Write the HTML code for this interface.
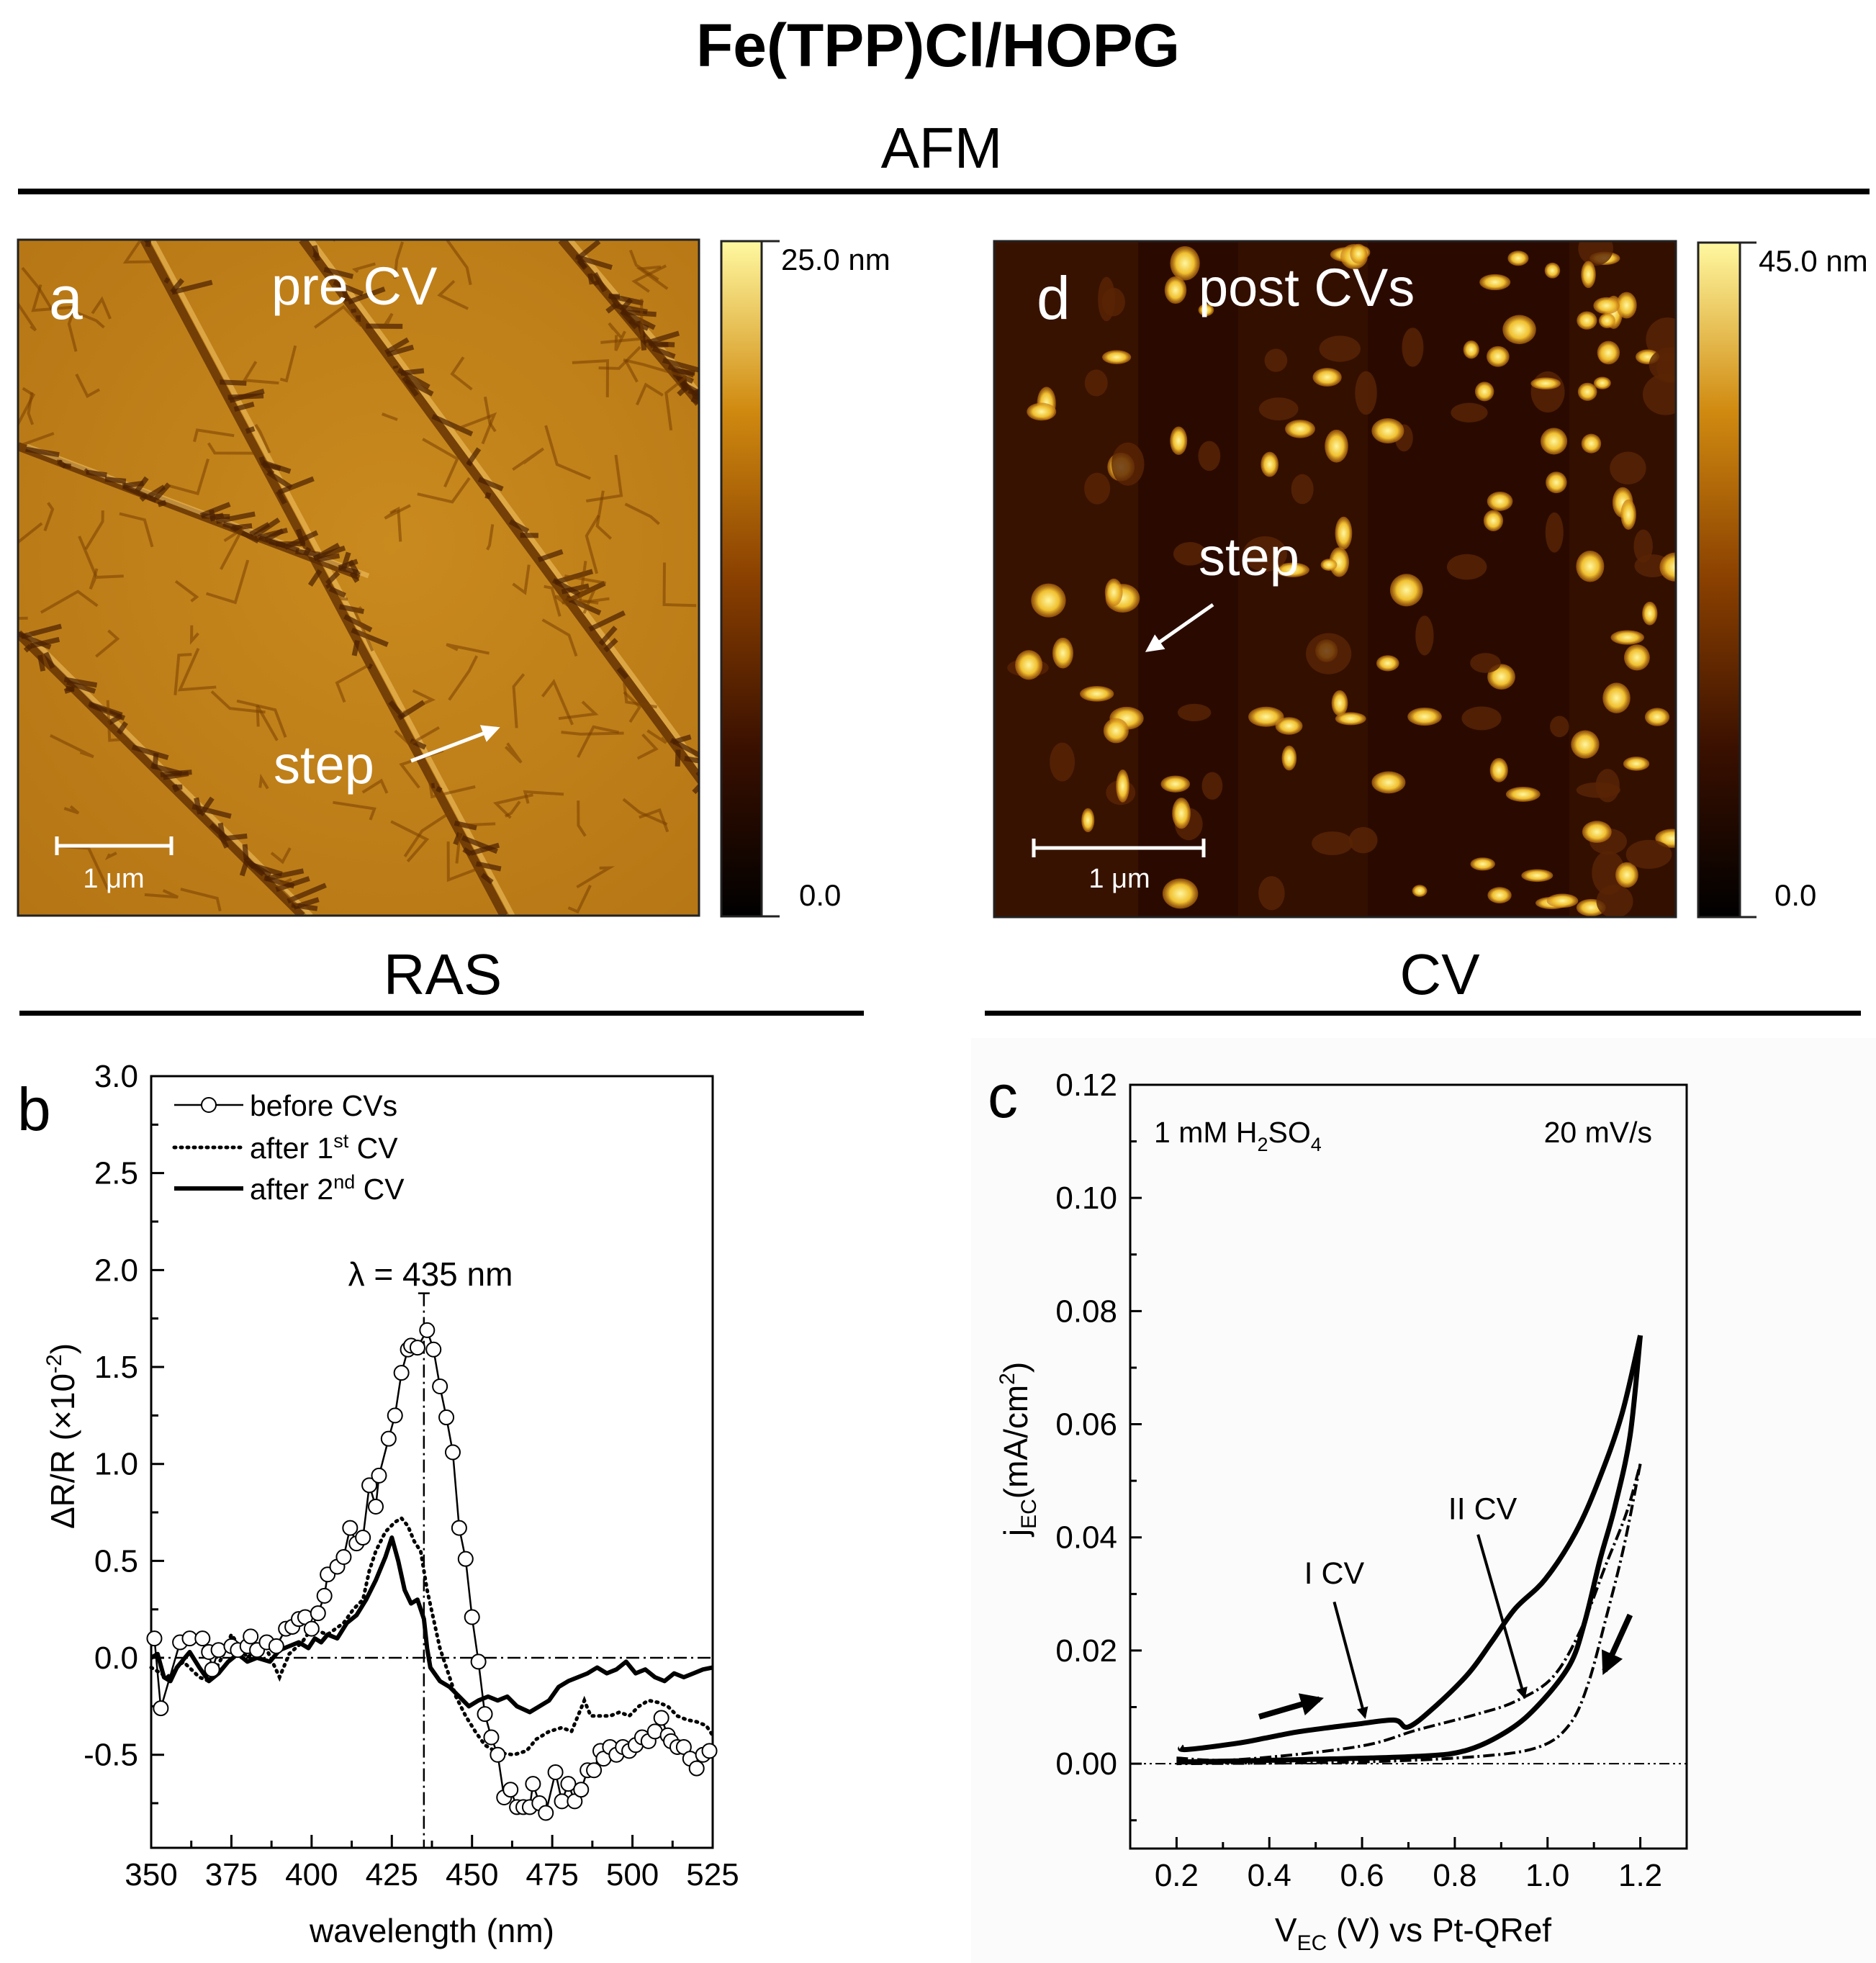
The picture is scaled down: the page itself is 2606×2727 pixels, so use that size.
<!DOCTYPE html>
<html><head><meta charset="utf-8"><style>
html,body{margin:0;padding:0;background:#fff;}
svg{display:block;font-family:"Liberation Sans",Arial,sans-serif;}
</style></head><body>
<svg id="fig" xmlns="http://www.w3.org/2000/svg" width="2606" height="2727" viewBox="0 0 2606 2727">
<defs>
<linearGradient id="cbar" x1="0" y1="1" x2="0" y2="0">
<stop offset="0" stop-color="#000"/><stop offset="0.25" stop-color="#3a1000"/><stop offset="0.5" stop-color="#8a4000"/><stop offset="0.75" stop-color="#d08a10"/><stop offset="1" stop-color="#fff8a0"/>
</linearGradient>
<radialGradient id="agrad" cx="0.55" cy="0.45" r="0.8">
<stop offset="0" stop-color="#c98a1e"/><stop offset="1" stop-color="#b47414"/>
</radialGradient>
<radialGradient id="blob" cx="0.5" cy="0.5" r="0.5">
<stop offset="0" stop-color="#fff6a0"/><stop offset="0.6" stop-color="#f0c030"/><stop offset="1" stop-color="#c07010" stop-opacity="0.6"/>
</radialGradient>
<marker id="arrW" viewBox="0 0 10 10" refX="8" refY="5" markerWidth="5" markerHeight="5" orient="auto"><path d="M0,0 L10,5 L0,10 z" fill="#fff"/></marker>
<marker id="arrB" viewBox="0 0 10 10" refX="8" refY="5" markerWidth="4" markerHeight="4" orient="auto"><path d="M0,0 L10,5 L0,10 z" fill="#000"/></marker>
<clipPath id="clipA"><rect x="25" y="333" width="946" height="939"/></clipPath>
<clipPath id="clipD"><rect x="1381" y="335" width="947" height="939"/></clipPath>
</defs>

<text x="1303" y="92" font-size="84" font-weight="bold" text-anchor="middle">Fe(TPP)Cl/HOPG</text>
<text x="1308" y="233" font-size="80" text-anchor="middle">AFM</text>
<rect x="25" y="262" width="2572" height="8" fill="#000"/>

<!-- AFM a -->
<g>
<rect x="25" y="333" width="946" height="939" fill="url(#agrad)" stroke="#222" stroke-width="3"/>
<g id="afmA" clip-path="url(#clipA)"></g>
<rect x="25" y="333" width="946" height="939" fill="none" stroke="#222" stroke-width="3"/>
</g>
<text x="68" y="443" font-size="84" fill="#fff">a</text>
<text x="377" y="423" font-size="74" fill="#fff">pre CV</text>
<text x="380" y="1088" font-size="74" fill="#fff">step</text>
<line x1="571" y1="1057" x2="690" y2="1012" stroke="#fff" stroke-width="5" marker-end="url(#arrW)"/>
<g stroke="#fff" stroke-width="5">
<line x1="79" y1="1175" x2="238" y2="1175"/><line x1="79" y1="1162" x2="79" y2="1188"/><line x1="238" y1="1162" x2="238" y2="1188"/></g>
<text x="158" y="1233" font-size="38" fill="#fff" text-anchor="middle">1 μm</text>
<rect x="1002" y="335" width="56" height="938" fill="url(#cbar)" stroke="#222" stroke-width="3"/>
<path d="M1058 335 H1083 M1058 1273 H1083" stroke="#222" stroke-width="3"/>
<text x="1085" y="375" font-size="42">25.0 nm</text>
<text x="1110" y="1258" font-size="42">0.0</text>

<!-- AFM d -->
<g>
<rect x="1381" y="335" width="947" height="939" fill="#2a0a00"/>
<g id="afmD" clip-path="url(#clipD)"></g>
<rect x="1381" y="335" width="947" height="939" fill="none" stroke="#222" stroke-width="3"/>
</g>
<text x="1440" y="443" font-size="84" fill="#fff">d</text>
<text x="1665" y="425" font-size="74" fill="#fff">post CVs</text>
<text x="1665" y="799" font-size="74" fill="#fff">step</text>
<line x1="1685" y1="840" x2="1595" y2="903" stroke="#fff" stroke-width="5" marker-end="url(#arrW)"/>
<g stroke="#fff" stroke-width="5">
<line x1="1436" y1="1178" x2="1672" y2="1178"/><line x1="1436" y1="1165" x2="1436" y2="1191"/><line x1="1672" y1="1165" x2="1672" y2="1191"/></g>
<text x="1555" y="1233" font-size="38" fill="#fff" text-anchor="middle">1 μm</text>
<rect x="2359" y="337" width="58" height="937" fill="url(#cbar)" stroke="#222" stroke-width="3"/>
<path d="M2417 337 H2440 M2417 1274 H2440" stroke="#222" stroke-width="3"/>
<text x="2443" y="377" font-size="42">45.0 nm</text>
<text x="2465" y="1258" font-size="42">0.0</text>

<!-- section headers -->
<text x="615" y="1381" font-size="80" text-anchor="middle">RAS</text>
<rect x="27" y="1404" width="1173" height="7" fill="#000"/>
<text x="2000" y="1381" font-size="80" text-anchor="middle">CV</text>
<rect x="1368" y="1404" width="1217" height="7" fill="#000"/>
<rect x="1349" y="1442" width="1257" height="1285" fill="#fbfbfb"/>

<g id="rasChart"></g>
<g id="cvChart"></g>
</svg>

<script>
// ---------------- RAS data ----------------
const rasXTicks = [350,375,400,425,450,475,500,525];
const rasYTicks = [-0.5,0.0,0.5,1.0,1.5,2.0,2.5,3.0];
const beforeWl = [351,353,359,362,366,368,369,371,375,377,380,381,383,386,389,392,394,396,398,400,402,404,405,408,410,412,414,416,418,420,421,424,426,428,430,431,433,436,438,440,442,444,446,448,450,452,454,456,458,460,462,464,466,468,469,471,473,476,478,480,482,484,486,488,490,491,493,495,497,499,501,503,505,507,509,511,512,514,516,518,520,522,524];
const beforeVal = [0.1,-0.26,0.08,0.1,0.1,0.03,-0.06,0.04,0.06,0.04,0.06,0.11,0.04,0.08,0.06,0.15,0.16,0.2,0.21,0.15,0.23,0.32,0.43,0.47,0.52,0.67,0.59,0.62,0.89,0.78,0.94,1.13,1.25,1.47,1.59,1.61,1.6,1.69,1.59,1.4,1.24,1.06,0.67,0.51,0.21,-0.02,-0.29,-0.41,-0.5,-0.72,-0.68,-0.77,-0.77,-0.77,-0.65,-0.75,-0.8,-0.59,-0.74,-0.65,-0.74,-0.68,-0.58,-0.58,-0.48,-0.52,-0.46,-0.5,-0.46,-0.48,-0.45,-0.41,-0.43,-0.38,-0.31,-0.4,-0.43,-0.46,-0.46,-0.52,-0.57,-0.5,-0.48];
const after1Wl = [350,355,360,365,368,372,375,380,385,390,393,397,400,405,410,413,416,418,420,423,426,428,430,432,434,436,438,440,442,445,448,451,454,458,463,467,470,474,478,481,483,485,487,490,493,496,499,502,505,508,511,514,517,520,523,525];
const after1Val = [-0.05,-0.1,-0.02,-0.1,-0.12,0.0,0.12,0.0,0.08,-0.1,0.02,0.08,0.15,0.12,0.18,0.25,0.3,0.45,0.55,0.65,0.7,0.72,0.68,0.6,0.55,0.35,0.2,0.05,-0.05,-0.2,-0.3,-0.38,-0.45,-0.49,-0.5,-0.48,-0.42,-0.38,-0.36,-0.38,-0.3,-0.22,-0.3,-0.3,-0.3,-0.28,-0.3,-0.25,-0.22,-0.23,-0.25,-0.3,-0.32,-0.33,-0.35,-0.4];
const after2Wl = [350,352,354,356,358,362,365,368,371,374,377,380,383,387,390,393,396,399,401,403,405,408,411,414,417,420,423,425,427,429,431,433,435,436,437,440,443,446,449,452,455,458,461,464,468,471,474,477,480,483,486,489,492,495,498,501,504,507,510,513,516,519,522,525];
const after2Val = [0.0,0.02,-0.1,-0.12,-0.05,0.03,-0.05,-0.12,-0.08,-0.02,0.02,-0.02,0.0,-0.02,0.04,0.06,0.08,0.05,0.1,0.08,0.12,0.1,0.18,0.22,0.3,0.4,0.52,0.62,0.5,0.35,0.28,0.3,0.2,0.05,-0.05,-0.12,-0.15,-0.2,-0.25,-0.22,-0.2,-0.22,-0.2,-0.25,-0.28,-0.25,-0.22,-0.15,-0.12,-0.1,-0.08,-0.05,-0.08,-0.06,-0.02,-0.08,-0.06,-0.1,-0.12,-0.08,-0.1,-0.08,-0.06,-0.05];
const peakWl = 435;

// ---------------- CV data ----------------
const cvXTicks = [0.2,0.4,0.6,0.8,1.0,1.2];
const cvYTicks = [0.00,0.02,0.04,0.06,0.08,0.10,0.12];
const cv1FwdV = [0.21,0.22,0.33,0.39,0.46,0.54,0.59,0.67,0.70,0.76,0.83,0.88,0.93,0.995,1.06,1.11,1.16,1.2];
const cv1FwdJ = [0.003,0.0025,0.0036,0.0045,0.0056,0.0065,0.007,0.0077,0.0065,0.0103,0.016,0.0216,0.0274,0.0326,0.0408,0.05,0.0617,0.0757];
const cv1RevV = [1.2,1.178,1.145,1.113,1.08,1.048,0.983,0.918,0.827,0.72,0.46,0.2];
const cv1RevJ = [0.0757,0.058,0.0454,0.036,0.025,0.0175,0.0106,0.006,0.0024,0.0013,0.0007,0.0003];
const cv2FwdV = [0.2,0.33,0.59,0.72,0.85,0.93,1.01,1.07,1.125,1.17,1.2];
const cv2FwdJ = [0.001,0.0007,0.003,0.006,0.0088,0.011,0.0152,0.0234,0.035,0.0443,0.053];
const cv2RevV = [1.2,1.165,1.126,1.087,1.048,0.983,0.853,0.59,0.2];
const cv2RevJ = [0.053,0.0385,0.0257,0.014,0.007,0.003,0.0013,0.0003,0.0];

const NS = "http://www.w3.org/2000/svg";
function mk(parent, tag, attrs, text){
  const e = document.createElementNS(NS, tag);
  for (const k in attrs) e.setAttribute(k, attrs[k]);
  if (text !== undefined) e.textContent = text;
  parent.appendChild(e);
  return e;
}
function pathD(xs, ys, fx, fy){
  return xs.map((v,i)=>(i?'L':'M')+fx(v).toFixed(1)+' '+fy(ys[i]).toFixed(1)).join(' ');
}
// smooth path (Catmull-Rom)
function smoothD(xs, ys, fx, fy){
  const p = xs.map((v,i)=>[fx(v),fy(ys[i])]);
  let d = `M${p[0][0].toFixed(1)} ${p[0][1].toFixed(1)}`;
  for(let i=0;i<p.length-1;i++){
    const p0=p[Math.max(0,i-1)], p1=p[i], p2=p[i+1], p3=p[Math.min(p.length-1,i+2)];
    const c1=[p1[0]+(p2[0]-p0[0])/6, p1[1]+(p2[1]-p0[1])/6];
    const c2=[p2[0]-(p3[0]-p1[0])/6, p2[1]-(p3[1]-p1[1])/6];
    d += ` C${c1[0].toFixed(1)} ${c1[1].toFixed(1)} ${c2[0].toFixed(1)} ${c2[1].toFixed(1)} ${p2[0].toFixed(1)} ${p2[1].toFixed(1)}`;
  }
  return d;
}

// ===== RAS chart =====
(function(){
  const g = document.getElementById('rasChart');
  const L=210, R=990, T=1495, B=2567;
  const x0=350, x1=525, y0=-0.98, y1=3.0;
  const fx = v => L + (v-x0)/(x1-x0)*(R-L);
  const fy = v => B - (v-y0)/(y1-y0)*(B-T);
  const frame = mk(g,'rect',{x:L,y:T,width:R-L,height:B-T,fill:'none',stroke:'#000','stroke-width':3});
  
  
  let tk = '';
  for (let v=350; v<=525; v+=12.5){ const big = (v%25===0); tk += `M${fx(v)} ${B} V${B-(big?18:10)} `; }
  for (let v=-0.75; v<=3.0; v+=0.25){ const big = Math.abs(v*2-Math.round(v*2))<1e-6; tk += `M${L} ${fy(v)} H${L+(big?18:10)} `; }
  mk(g,'path',{d:tk,stroke:'#000','stroke-width':3,fill:'none'});
  rasXTicks.forEach(v=>{
    const t = mk(g,'text',{x:fx(v),y:B+52,'font-size':44,'text-anchor':'middle'}, String(v));
    
    
  });
  rasYTicks.forEach(v=>{
    const t = mk(g,'text',{x:L-18,y:fy(v)+15,'font-size':44,'text-anchor':'end'}, v.toFixed(1));
    
    
  });
  const xt = mk(g,'text',{x:600,y:2698,'font-size':46,'text-anchor':'middle'},'wavelength (nm)');
  
  
  const yt = mk(g,'text',{x:0,y:0,'font-size':46,'text-anchor':'middle',transform:'translate(103 1995) rotate(-90)'});
  
  
  yt.innerHTML = 'ΔR/R (×10<tspan dy="-18" font-size="30">-2</tspan><tspan dy="18">)</tspan>';
  const pl = mk(g,'text',{x:24,y:1570,'font-size':84},'b');
  
  
  mk(g,'line',{x1:L,y1:fy(0),x2:R,y2:fy(0),stroke:'#000','stroke-width':2.5,'stroke-dasharray':'18 6 3 6'});
  mk(g,'path',{d:`M${fx(peakWl)} ${fy(1.88)} V${B} M${fx(peakWl)-8} ${fy(1.88)} H${fx(peakWl)+8}`,stroke:'#000','stroke-width':2.5,'stroke-dasharray':'18 6 3 6',fill:'none'});
  const lt = mk(g,'text',{x:598,y:1786,'font-size':46,'text-anchor':'middle'},'λ = 435 nm');
  
  
  const s2 = mk(g,'path',{d:pathD(after2Wl,after2Val,fx,fy),stroke:'#000','stroke-width':6,fill:'none','stroke-linejoin':'round'});
  
  
  const s1 = mk(g,'path',{d:pathD(after1Wl,after1Val,fx,fy),stroke:'#000','stroke-width':5,fill:'none','stroke-dasharray':'2 7','stroke-linecap':'round'});
  
  
  const s0 = mk(g,'path',{d:pathD(beforeWl,beforeVal,fx,fy),stroke:'#000','stroke-width':2.5,fill:'none'});
  
  
  beforeWl.forEach((w,i)=>{
    const c = mk(g,'circle',{cx:fx(w),cy:fy(beforeVal[i]),r:10,fill:'#fff',stroke:'#000','stroke-width':2});
    
    
  });
  const lg = mk(g,'g',{});
  
  
  mk(lg,'line',{x1:242,y1:1535,x2:338,y2:1535,stroke:'#000','stroke-width':2.5});
  mk(lg,'circle',{cx:290,cy:1535,r:10,fill:'#fff',stroke:'#000','stroke-width':2});
  mk(lg,'text',{x:347,y:1550,'font-size':41},'before CVs');
  mk(lg,'line',{x1:242,y1:1594,x2:338,y2:1594,stroke:'#000','stroke-width':5,'stroke-dasharray':'2 7','stroke-linecap':'round'});
  const t1 = mk(lg,'text',{x:347,y:1609,'font-size':41});
  t1.innerHTML = 'after 1<tspan dy="-15" font-size="27">st</tspan><tspan dy="15"> CV</tspan>';
  mk(lg,'line',{x1:242,y1:1651,x2:338,y2:1651,stroke:'#000','stroke-width':6});
  const t2 = mk(lg,'text',{x:347,y:1666,'font-size':41});
  t2.innerHTML = 'after 2<tspan dy="-15" font-size="27">nd</tspan><tspan dy="15"> CV</tspan>';
})();

// ===== CV chart =====
(function(){
  const g = document.getElementById('cvChart');
  const L=1570, R=2343, T=1507, B=2568;
  const x0=0.1, x1=1.3, y0=-0.015, y1=0.12;
  const fx = v => L + (v-x0)/(x1-x0)*(R-L);
  const fy = v => B - (v-y0)/(y1-y0)*(B-T);
  const frame = mk(g,'rect',{x:L,y:T,width:R-L,height:B-T,fill:'none',stroke:'#000','stroke-width':3});
  
  
  let tk='';
  for (let i=2;i<=12;i++){ const v=i/10; const big=(i%2===0); tk += `M${fx(v)} ${B} V${B-(big?16:9)} `; }
  for (let i=-1;i<=12;i++){ const v=i/100; const big=(i%2===0); tk += `M${L} ${fy(v)} H${L+(big?16:9)} `; }
  mk(g,'path',{d:tk,stroke:'#000','stroke-width':3,fill:'none'});
  cvXTicks.forEach(v=>{
    const t = mk(g,'text',{x:fx(v),y:B+52,'font-size':44,'text-anchor':'middle'}, v.toFixed(1));
    
    
  });
  cvYTicks.forEach(v=>{
    const t = mk(g,'text',{x:L-18,y:fy(v)+15,'font-size':44,'text-anchor':'end'}, v.toFixed(2));
    
    
  });
  const xt = mk(g,'text',{x:1963,y:2697,'font-size':46,'text-anchor':'middle'});
  
  
  xt.innerHTML = 'V<tspan dy="12" font-size="30">EC</tspan><tspan dy="-12"> (V) vs Pt-QRef</tspan>';
  const yt = mk(g,'text',{x:0,y:0,'font-size':46,'text-anchor':'middle',transform:'translate(1427 2013) rotate(-90)'});
  
  
  yt.innerHTML = 'j<tspan dy="12" font-size="30">EC</tspan><tspan dy="-12">(mA/cm</tspan><tspan dy="-18" font-size="30">2</tspan><tspan dy="18">)</tspan>';
  const pl = mk(g,'text',{x:1372,y:1552,'font-size':84},'c');
  
  
  const el = mk(g,'text',{x:1603,y:1587,'font-size':41});
  
  
  el.innerHTML = '1 mM H<tspan dy="12" font-size="27">2</tspan><tspan dy="-12">SO</tspan><tspan dy="12" font-size="27">4</tspan>';
  const sr = mk(g,'text',{x:2295,y:1587,'font-size':41,'text-anchor':'end'},'20 mV/s');
  
  
  mk(g,'line',{x1:L,y1:fy(0),x2:R,y2:fy(0),stroke:'#000','stroke-width':2,'stroke-dasharray':'14 5 3 5 3 5'});
  const a = mk(g,'path',{d:smoothD(cv1FwdV,cv1FwdJ,fx,fy),stroke:'#000','stroke-width':7,fill:'none','stroke-linejoin':'round'});
  
  
  const b = mk(g,'path',{d:smoothD(cv1RevV,cv1RevJ,fx,fy),stroke:'#000','stroke-width':7,fill:'none','stroke-linejoin':'round'});
  
  
  const c = mk(g,'path',{d:smoothD(cv2FwdV,cv2FwdJ,fx,fy),stroke:'#000','stroke-width':4,fill:'none','stroke-dasharray':'16 5 3 5'});
  
  
  const d = mk(g,'path',{d:smoothD(cv2RevV,cv2RevJ,fx,fy),stroke:'#000','stroke-width':4,fill:'none','stroke-dasharray':'16 5 3 5'});
  
  
  const arrows = [[0.378,0.0083,0.508,0.0114,'scan-forward-arrow'],[1.178,0.0263,1.123,0.0164,'scan-reverse-arrow'],[0.54,0.0286,0.606,0.0083,'cv1-arrow'],[0.85,0.0405,0.95,0.0118,'cv2-arrow']];
  arrows.forEach(r=>{
    const l = mk(g,'line',{x1:fx(r[0]),y1:fy(r[1]),x2:fx(r[2]),y2:fy(r[3]),stroke:'#000','stroke-width':(r[4].startsWith('scan')?8:4),'marker-end':'url(#arrB)'});
    
    
  });
  const l1 = mk(g,'text',{x:fx(0.54),y:fy(0.0318),'font-size':43,'text-anchor':'middle'},'I CV');
  
  
  const l2 = mk(g,'text',{x:fx(0.86),y:fy(0.0432),'font-size':43,'text-anchor':'middle'},'II CV');
  
  
})();

// ===== AFM textures (decorative image imitation) =====
(function(){
  let seed = 7;
  const rnd = () => { seed = (seed*16807) % 2147483647; return seed/2147483647; };
  const ga = document.getElementById('afmA');
  const steps = [[200,333,700,1272],[420,333,1000,1120],[780,333,971,560],[25,880,420,1272],[25,620,500,800]];
  steps.forEach(s=>{
    mk(ga,'line',{x1:s[0],y1:s[1],x2:s[2],y2:s[3],stroke:'#5a2a00','stroke-width':12,'stroke-opacity':0.75});
    mk(ga,'line',{x1:s[0]+12,y1:s[1],x2:s[2]+12,y2:s[3],stroke:'#f0c060','stroke-width':7,'stroke-opacity':0.6});
    for(let i=0;i<40;i++){
      const t=rnd(); const x=s[0]+(s[2]-s[0])*t, y=s[1]+(s[3]-s[1])*t;
      mk(ga,'line',{x1:x,y1:y,x2:x+(rnd()-0.2)*70,y2:y+(rnd()-0.5)*50,stroke:'#4a2000','stroke-width':7,'stroke-opacity':0.7});
    }
  });
  for(let i=0;i<120;i++){
    const x=25+rnd()*946, y=333+rnd()*939;
    mk(ga,'path',{d:`M${x} ${y} l${(rnd()-0.5)*120} ${(rnd()-0.5)*60} l${(rnd()-0.5)*60} ${(rnd()-0.5)*120}`,stroke:'#7a4000','stroke-width':4,fill:'none','stroke-opacity':0.55});
  }
  const gd = document.getElementById('afmD');
  mk(gd,'rect',{x:1381,y:335,width:200,height:939,fill:'#3e1500',opacity:0.7});
  mk(gd,'rect',{x:1720,y:335,width:180,height:939,fill:'#3a1200',opacity:0.6});
  mk(gd,'rect',{x:2180,y:335,width:148,height:939,fill:'#3a1300',opacity:0.6});
  const cols=[0.07,0.17,0.3,0.42,0.52,0.6,0.72,0.8,0.9,0.97];
  for(let i=0;i<140;i++){
    const c=cols[Math.floor(rnd()*cols.length)];
    const x=1381+947*(c+(rnd()-0.5)*0.07), y=345+rnd()*920;
    const w=9+rnd()*16, h=8+rnd()*16;
    if(rnd()<0.72) mk(gd,'ellipse',{cx:x,cy:y,rx:w,ry:h,fill:'url(#blob)'});
    else mk(gd,'ellipse',{cx:x,cy:y,rx:w*1.3,ry:h*1.3,fill:'#5a2405',opacity:0.8});
  }
})();
</script>
</body></html>
